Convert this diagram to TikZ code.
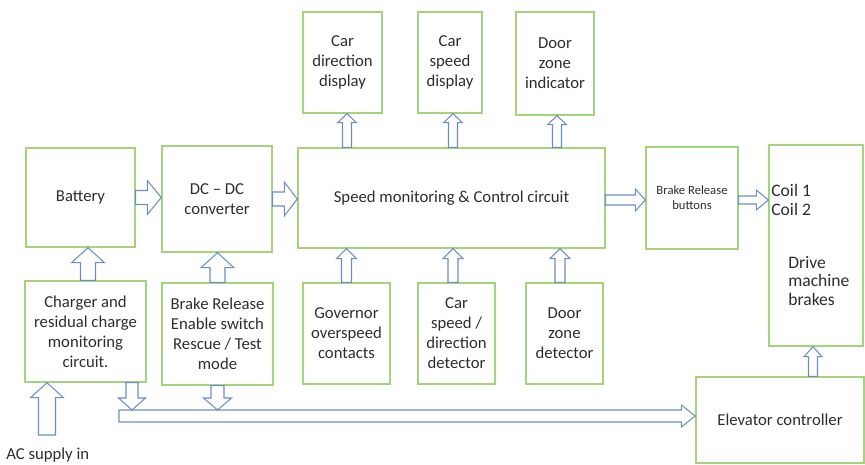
\documentclass[tikz,border=0pt]{standalone}
\usepackage{fontspec}
\setmainfont{Carlito}
\usetikzlibrary{calc}
\definecolor{boxgreen}{RGB}{165,210,125}
\definecolor{arrowblue}{RGB}{110,140,200}
\definecolor{textgray}{RGB}{45,45,45}

\newcommand{\drawblock}[3]{%
  \coordinate (ba-h) at ($(ba-e)!#3*0.02cm!(ba-s)$);
  \draw[arrowline] ($(ba-s)!#1*0.01cm!90:(ba-e)$) -- ($(ba-h)!#1*0.01cm!90:(ba-e)$)
    -- ($(ba-h)!#2*0.01cm!90:(ba-e)$) -- (ba-e)
    -- ($(ba-h)!#2*0.01cm!-90:(ba-e)$) -- ($(ba-h)!#1*0.01cm!-90:(ba-e)$)
    -- ($(ba-s)!#1*0.01cm!-90:(ba-e)$) -- cycle;}
\newcommand{\varrow}[5]{%
  \coordinate (ba-s) at (#1);
  \coordinate (ba-e) at (ba-s |- #2);
  \drawblock{#3}{#4}{#5}}
\newcommand{\harrow}[5]{%
  \coordinate (ba-s) at (#1);
  \coordinate (ba-e) at (ba-s -| #2);
  \drawblock{#3}{#4}{#5}}

\begin{document}
\begin{tikzpicture} [x = 0.02cm, y = -0.02cm,
  box/.style = {draw = boxgreen, line width = 0.8pt, align = center, inner sep = 1pt,
    text = textgray, font = \fontsize{9.5}{11.4}\selectfont},
  sz/.style 2 args = {minimum width = #1*0.02cm, minimum height = #2*0.02cm},
  arrowline/.style = {draw = arrowblue, line width = 0.6pt, line join = miter},
  label/.style = {text = textgray, align = left, inner sep = 0pt, font = \fontsize{10}{10.8}\selectfont}]
\useasboundingbox (0, 0) rectangle (865, 464);
\node[box, sz = {109}{99}] (bat) at (80.5, 197.5) {Battery};
\node[box, sz = {110}{106}] (dcdc) at (217, 199) {DC – DC\\converter};
\node[box, sz = {307}{100}] (speed) at (451.5, 198) {Speed monitoring \& Control circuit};
\node[box, sz = {79}{101}] (cdir) at (342.5, 62.5) {Car\\direction\\display};
\node[box, sz = {64}{101}] (cspd) at (450, 62.5) {Car\\speed\\display};
\node[box, sz = {78}{103}] (dzi) at (555, 63.5) {Door\\zone\\indicator};
\node[box, sz = {92}{102}, font = \fontsize{7.2}{8.6}\selectfont] (brel) at (692, 198) {Brake Release\\buttons};
\node[box, sz = {94}{201}] (drive) at (816, 245.5) {};
\node[box, sz = {168}{86}] (elev) at (780, 420) {Elevator controller};
\node[box, sz = {121}{101}] (chg) at (85.5, 331.5) {Charger and\\residual charge\\monitoring\\circuit.};
\node[box, sz = {111}{102}] (enab) at (217.5, 334) {Brake Release\\Enable switch\\Rescue / Test\\mode};
\node[box, sz = {87}{101}] (gov) at (346.5, 333.5) {Governor\\overspeed\\contacts};
\node[box, sz = {77}{101}] (csd) at (456.5, 333.5) {Car\\speed /\\direction\\detector};
\node[box, sz = {77}{101}] (dzd) at (564.5, 333.5) {Door\\zone\\detector};
\node[label, anchor = north west] (coil) at (771, 184) {Coil 1\\Coil 2};
\node[label, anchor = west] (dmb) at (788, 281) {Drive\\machine\\brakes};
\node[label, anchor = west, font = \fontsize{9.5}{11}\selectfont] (ac) at (6, 455) {AC supply in};
\coordinate (acin) at (47, 435);
\coordinate (busL) at (119, 416);
\coordinate (busT) at (119, 410);
\harrow{bat.east}{dcdc.west}{14}{34}{14}
\harrow{dcdc.east}{speed.west}{14}{34}{13}
\harrow{$(speed.east)+(0, 2)$}{brel.west}{10}{22}{10}
\harrow{$(brel.east)+(0, 2)$}{drive.west}{8}{20}{12}
\harrow{busL}{elev.west}{12}{22}{14}
\varrow{$(chg.north)+(2.5, 0)$}{bat.south}{15}{33}{15}
\varrow{enab.north}{dcdc.south}{15}{33}{15}
\varrow{$(cdir.south |- speed.north)+(4.5, 0)$}{cdir.south}{9}{19}{9}
\varrow{$(cspd.south |- speed.north)+(3, 0)$}{cspd.south}{9}{19}{9}
\varrow{$(dzi.south |- speed.north)+(2, 0)$}{dzi.south}{9}{19}{9}
\varrow{gov.north}{speed.south}{10}{20}{10}
\varrow{$(csd.north)+(-3.5, 0)$}{speed.south}{10}{20}{10}
\varrow{$(dzd.north)+(-4.5, 0)$}{speed.south}{10}{20}{10}
\varrow{$(elev.north -| drive.south)+(-3, 0)$}{drive.south}{9}{18}{10}
\varrow{acin}{chg.south}{17}{33}{15}
\varrow{$(chg.south)+(46.5, 0)$}{busT}{12}{27}{12}
\varrow{enab.south}{busT}{13}{28}{12}
\end{tikzpicture}
\end{document}
